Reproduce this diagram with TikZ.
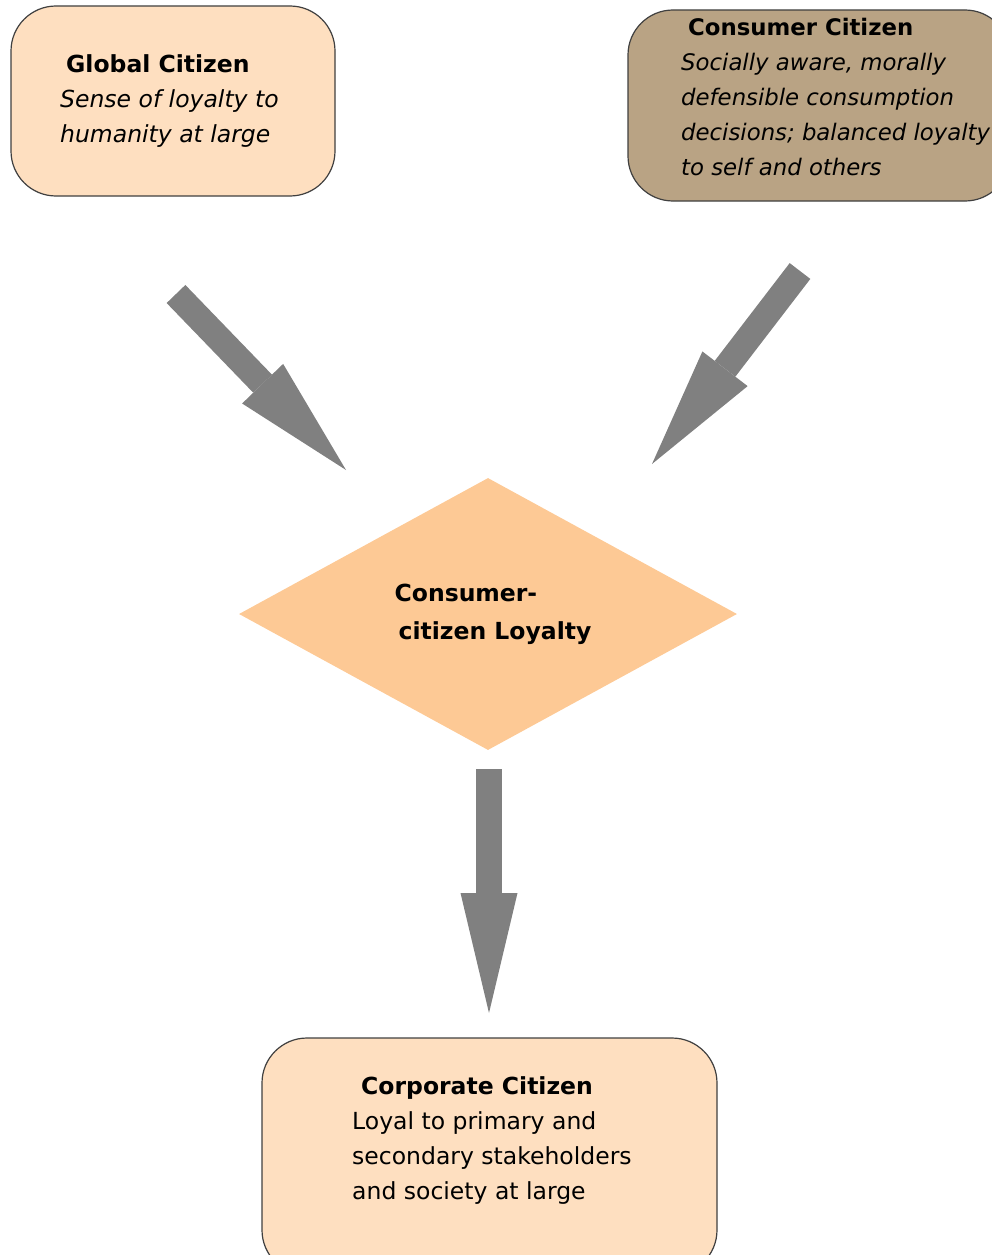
\documentclass[tikz,border=0pt]{standalone}
\usepackage{fontspec}
\setmainfont{DejaVu Sans}
\usetikzlibrary{shapes.geometric,arrows.meta}
\definecolor{peach}{HTML}{FEDFC0}
\definecolor{consumertan}{HTML}{B9A384}
\definecolor{loyaltyorange}{HTML}{FDC995}
\definecolor{boxline}{HTML}{404040}
\definecolor{arrowgray}{HTML}{808080}
\tikzset{
  citbox/.style={draw=boxline, line width=1.2pt, rounded corners=45pt, inner sep=0pt},
  citext/.style={anchor=north west, align=left, inner sep=0pt, font=\fontsize{23.5}{35}\selectfont},
  bigarrow/.style={draw=arrowgray, line width=26pt, -{Triangle[length=120pt,width=57pt,line width=0pt]}},
}
\begin{document}
\begin{tikzpicture}[x=1pt,y=-1pt]
    \useasboundingbox (0,0) rectangle (992,1255);

    % citizen boxes
    \node[citbox, fill=peach, minimum width=324pt, minimum height=190pt] (global) at (173,101) {};
    \node[citbox, fill=consumertan, minimum width=382pt, minimum height=191pt] (consumer) at (819,105.5) {};
    \node[citbox, fill=peach, minimum width=455pt, minimum height=237pt] (corporate) at (489.5,1156.5) {};
    \node[diamond, fill=loyaltyorange, minimum width=498pt, minimum height=272pt, inner sep=0pt,
          align=left, font=\bfseries\fontsize{23.5}{38}\selectfont] (loyalty) at (488,614)
          {\hspace*{-4pt}Consumer-\\citizen Loyalty\hspace*{-14pt}};

    \node[citext] (globaltext) at (60,54) {\hspace*{6pt}\textbf{Global Citizen}\\
      \textit{Sense of loyalty to}\\ \textit{humanity at large}};
    \node[citext, font=\fontsize{22.8}{35}\selectfont] (consumertext) at (681,18) {\hspace*{7pt}\textbf{Consumer Citizen}\\
      \textit{Socially aware, morally}\\ \textit{defensible consumption}\\
      \textit{decisions; balanced loyalty}\\ \textit{to self and others}};
    \node[citext] (corporatetext) at (352,1076) {\hspace*{9pt}\textbf{Corporate Citizen}\\
      Loyal to primary and\\ secondary stakeholders\\ and society at large};

    % block arrows
    \coordinate (globaltail) at (176,294);
    \coordinate (globaltip) at (346,470);
    \coordinate (consumertail) at (800,271);
    \coordinate (consumertip) at (652,464);
    \coordinate (loyaltytail) at (489,769);
    \coordinate (loyaltytip) at (489,1013);

    \draw[bigarrow] (globaltail) -- (globaltip);
    \draw[bigarrow] (consumertail) -- (consumertip);
    \draw[bigarrow] (loyaltytail) -- (loyaltytip);
\end{tikzpicture}
\end{document}
